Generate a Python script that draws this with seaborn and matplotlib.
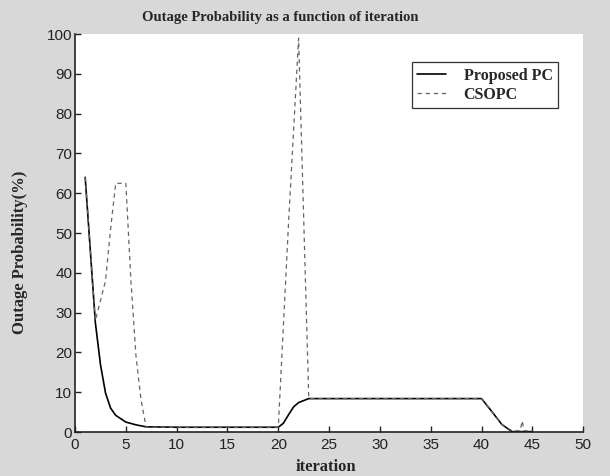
import matplotlib
matplotlib.use("Agg")
import matplotlib.pyplot as plt
import seaborn as sns
import pandas as pd

# --- data ---
pc_x = [1, 2, 2.5, 3, 3.5, 4, 5, 6, 7, 10, 15, 20, 20.5, 21, 21.5, 22, 23, 25, 30, 35, 40, 41, 42, 43, 45]
pc_y = [64, 27.5, 17, 9.8, 6, 4.2, 2.5, 1.8, 1.3, 1.2, 1.2, 1.2, 2.2, 4.3, 6.3, 7.4, 8.4, 8.4, 8.4, 8.4, 8.4, 5.2, 1.9, 0.1, 0.1]

cs_x = [1, 2, 3, 3.5, 4, 5, 5.5, 6, 6.5, 7, 10, 15, 20, 21, 22, 23, 25, 30, 35, 40, 41, 42, 43, 43.8, 44, 44.2, 45]
cs_y = [64, 28, 38, 51, 62.5, 62.5, 38, 19, 8, 1.2, 1.2, 1.2, 1.2, 52, 99, 8.4, 8.4, 8.4, 8.4, 8.4, 5.2, 1.9, 0.3, 0.3, 2.8, 0.3, 0.3]

series_names = ["Proposed PC", "CSOPC"]
title = "Outage Probability as a function of iteration"
xlabel = "iteration"
ylabel = "Outage Probability(%)"
xticks = [0, 5, 10, 15, 20, 25, 30, 35, 40, 45, 50]
yticks = [0, 10, 20, 30, 40, 50, 60, 70, 80, 90, 100]

df_pc = pd.DataFrame({"iteration": pc_x, "prob": pc_y})
df_cs = pd.DataFrame({"iteration": cs_x, "prob": cs_y})

sns.set_style("ticks")
serif = ["Liberation Serif", "DejaVu Serif"]
sans = ["Liberation Sans", "DejaVu Sans"]

fig = plt.figure(figsize=(6.1, 4.76), dpi=100)
fig.patch.set_facecolor("#d8d8d8")
ax = fig.add_axes([0.123, 0.0924, 0.833, 0.836])
ax.set_facecolor("white")

sns.lineplot(data=df_pc, x="iteration", y="prob", ax=ax, color="black",
             linewidth=1.2, label=series_names[0], sort=False)
sns.lineplot(data=df_cs, x="iteration", y="prob", ax=ax, color="#666666",
             linewidth=0.9, linestyle=(0, (3.5, 3)), label=series_names[1], sort=False)

ax.set_xlim(0, 50)
ax.set_ylim(0, 100)
ax.set_xticks(xticks)
ax.set_yticks(yticks)
ax.set_xticklabels([str(t) for t in xticks], family=sans, fontsize=11)
ax.set_yticklabels([str(t) for t in yticks], family=sans, fontsize=11)
ax.tick_params(direction="in", length=4, width=1, colors="#222222")
ax.tick_params(axis="x", pad=4)
ax.tick_params(axis="y", pad=2)
for s in ["top", "right"]:
    ax.spines[s].set_visible(False)
for s in ["left", "bottom"]:
    ax.spines[s].set_linewidth(1.2)
    ax.spines[s].set_color("#222222")

ax.set_xlabel("")
ax.set_ylabel("")
fig.text(326 / 610, 1 - 467 / 476, xlabel, ha="center", va="center",
         family=serif, fontweight="bold", fontsize=12)
fig.text(20 / 610, 1 - 252 / 476, ylabel, ha="center", va="center", rotation=90,
         family=serif, fontweight="bold", fontsize=12)
fig.text(280 / 610, 1 - 17 / 476, title, ha="center", va="center",
         family=serif, fontweight="bold", fontsize=10.5)

leg = ax.legend(loc="upper right", bbox_to_anchor=(0.951, 0.93), frameon=True,
                fancybox=False, framealpha=1, edgecolor="#333333",
                prop={"family": serif, "weight": "bold", "size": 11.5},
                handlelength=1.8, handletextpad=1.1, borderpad=0.35,
                labelspacing=0.2, borderaxespad=0)
leg.get_frame().set_linewidth(0.9)

fig.savefig("out.png", dpi=100, facecolor=fig.get_facecolor())
